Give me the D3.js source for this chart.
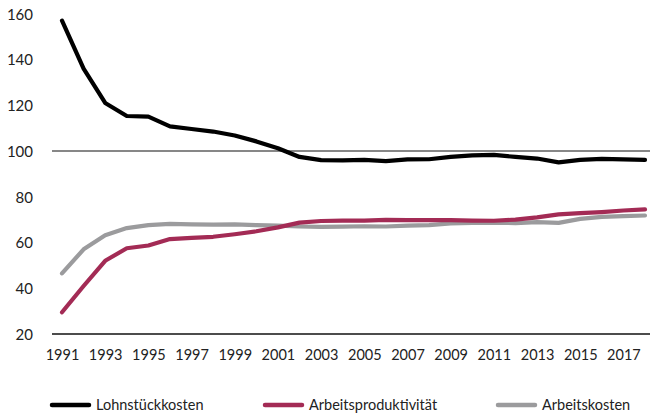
<!DOCTYPE html>
<html>
<head>
<meta charset="utf-8">
<script src="https://cdn.jsdelivr.net/npm/d3@7"></script>
<style>
  html, body { margin: 0; padding: 0; background: #fff; }
  svg { display: block; font-family: Lato, "Open Sans", sans-serif; }
</style>
</head>
<body>
<svg id="chart" width="650" height="415"></svg>
<script>
// Index series, 1991–2018
const years = d3.range(1991, 2019);
const lohnstueckkosten = [157, 136, 121, 115.3, 115, 110.8, 109.6, 108.5, 106.8, 104.2, 101.2, 97.4, 96, 95.9, 96.1, 95.6, 96.3, 96.4, 97.4, 98.1, 98.3, 97.4, 96.7, 95, 96.1, 96.6, 96.3, 96.1];
const arbeitsproduktivitaet = [29.5, 41, 52, 57.5, 58.7, 61.5, 62, 62.5, 63.6, 64.9, 66.6, 68.7, 69.4, 69.6, 69.6, 69.9, 69.8, 69.8, 69.8, 69.6, 69.5, 70, 71, 72.3, 72.8, 73.3, 74, 74.5];
const arbeitskosten = [46.5, 57, 63.2, 66.3, 67.6, 68.1, 67.9, 67.8, 67.9, 67.6, 67.4, 67, 66.8, 66.9, 67.1, 67, 67.4, 67.6, 68.4, 68.6, 68.7, 68.5, 68.9, 68.6, 70.3, 71.2, 71.5, 71.8];
const yTicks = [20, 40, 60, 80, 100, 120, 140, 160];
const xTicks = d3.range(1991, 2018, 2);

const series = [
  { name: "Lohnstückkosten", values: lohnstueckkosten, color: "#000000" },
  { name: "Arbeitsproduktivität", values: arbeitsproduktivitaet, color: "#a32b55" },
  { name: "Arbeitskosten", values: arbeitskosten, color: "#9b9b9d" }
];

const svg = d3.select("#chart");
const x = d3.scaleLinear().domain([1991, 2018]).range([62, 645]);
const y = d3.scaleLinear().domain([20, 100]).range([334, 151]);

// y-axis labels
svg.append("g")
  .attr("transform", "translate(33,0)")
  .call(d3.axisLeft(y).tickValues(yTicks).tickSize(0).tickPadding(0))
  .call(g => g.select(".domain").remove())
  .call(g => g.selectAll("text")
    .attr("font-family", "Lato, 'Open Sans', sans-serif")
    .attr("font-size", 15).attr("fill", "#222").attr("dy", "0.36em"));

// baseline at 20 and reference line at 100
svg.append("line").attr("x1", 52).attr("x2", 650)
  .attr("y1", y(20)).attr("y2", y(20)).attr("stroke", "#111").attr("stroke-width", 1.4);
svg.append("line").attr("x1", 52).attr("x2", 650)
  .attr("y1", y(100)).attr("y2", y(100)).attr("stroke", "#111").attr("stroke-width", 1.2);

// x-axis labels
svg.append("g")
  .attr("transform", "translate(0,350)")
  .call(d3.axisBottom(x).tickValues(xTicks).tickFormat(d3.format("d")).tickSize(0).tickPadding(0))
  .call(g => g.select(".domain").remove())
  .call(g => g.selectAll("text")
    .attr("font-family", "Lato, 'Open Sans', sans-serif")
    .attr("font-size", 14.5).attr("fill", "#222").attr("dy", "0.71em"));

// lines
const line = d3.line().x((d, i) => x(years[i])).y(d => y(d));
svg.append("g").selectAll("path")
  .data(series.slice().reverse())
  .join("path")
  .attr("d", d => line(d.values))
  .attr("fill", "none")
  .attr("stroke", d => d.color)
  .attr("stroke-width", 4.2)
  .attr("stroke-linejoin", "round")
  .attr("stroke-linecap", "round");

// legend
const legendX = [52, 265, 498];
const lg = svg.append("g").selectAll("g").data(series).join("g")
  .attr("transform", (d, i) => `translate(${legendX[i]},405)`);
lg.append("line").attr("x1", 0).attr("x2", 37).attr("y1", 0).attr("y2", 0)
  .attr("stroke", d => d.color).attr("stroke-width", 4.5).attr("stroke-linecap", "round");
lg.append("text").attr("x", 44).attr("y", 0).attr("dy", "0.35em")
  .attr("font-size", 14.5).attr("fill", "#222").text(d => d.name);
</script>
</body>
</html>
